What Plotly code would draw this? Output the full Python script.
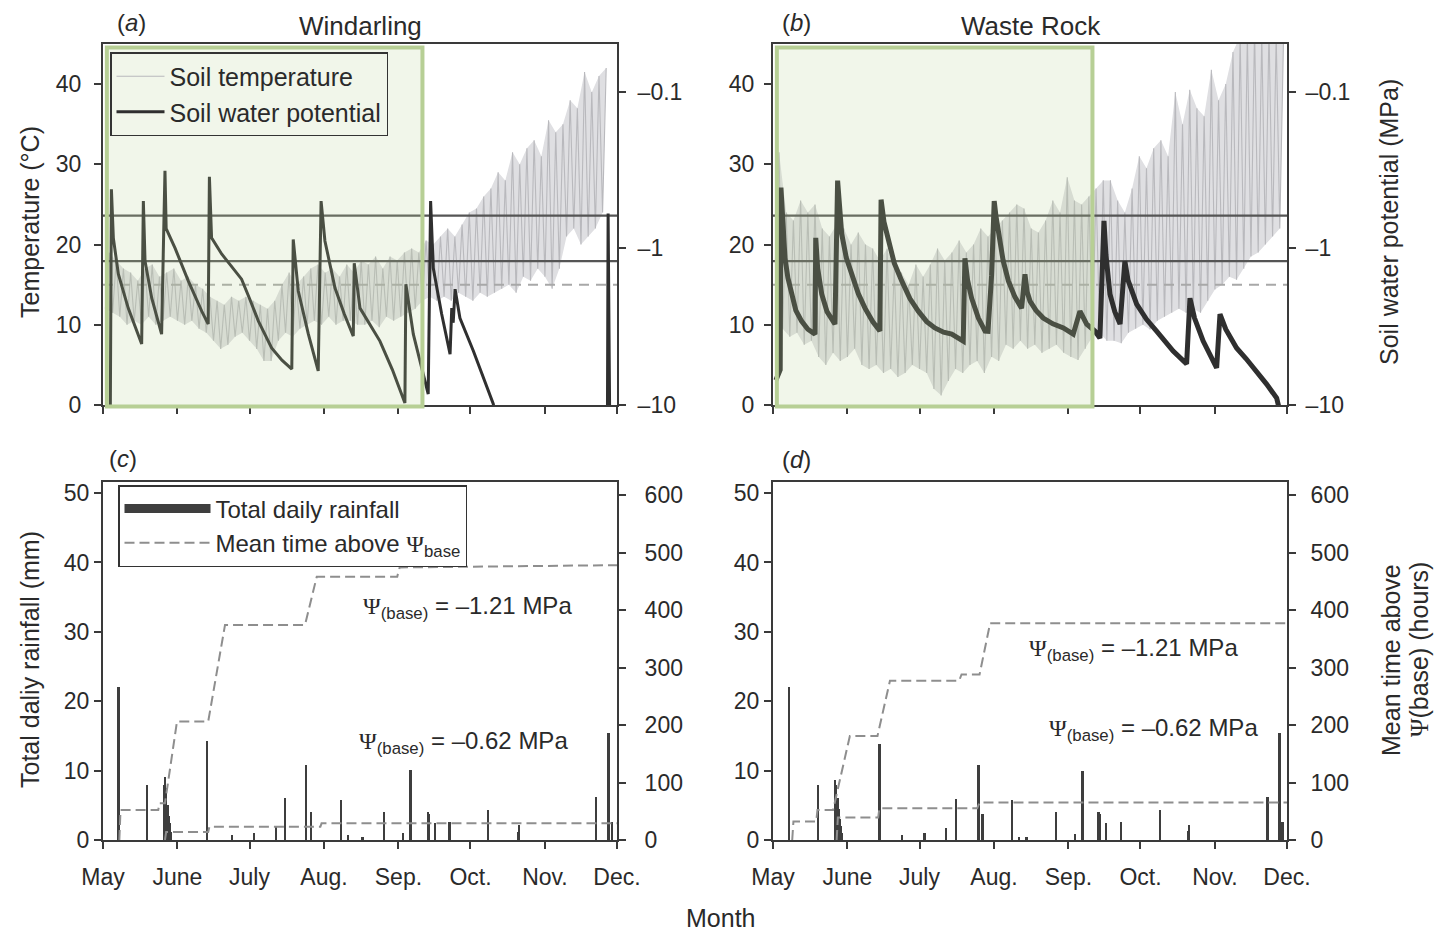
import pandas as pd
import plotly.graph_objects as go

W, H = 1445, 931
START = pd.Timestamp("2010-05-01")
END = pd.Timestamp("2010-12-01")

# ---------------- data ----------------
month_labels = ["May", "June", "July", "Aug.", "Sep.", "Oct.", "Nov.", "Dec."]
month_starts = ["2010-05-01", "2010-06-01", "2010-07-01", "2010-08-01",
                "2010-09-01", "2010-10-01", "2010-11-01", "2010-12-01"]

# days since 1 May; soil temperature daily envelope (deg C) - Windarling
temp_days_a = [1, 4, 7, 10, 13, 16, 19, 22, 25, 28, 31, 34, 37, 40, 43, 46, 49, 52, 55, 58,
               61, 64, 67, 70, 73, 76, 79, 82, 85, 88, 91, 94, 97, 100, 103, 106, 109, 112, 115, 118,
               121, 124, 127, 130, 133, 136, 139, 142, 145, 148, 151, 154, 157, 160, 163, 166, 169, 172, 175, 178,
               181, 184, 187, 190, 193, 196, 199, 202, 205, 208]
temp_hi_a = [19, 18, 17, 16.5, 15.5, 17, 17.5, 16, 16.5, 17, 15.5, 16, 15, 14.5, 13.5, 13, 12.5, 13.5, 13, 13.5,
             13, 12.5, 12, 13, 15, 16.5, 15, 16, 17, 17.5, 16.5, 17, 16, 17.5, 16.5, 18, 17.5, 18.5, 17, 18.5,
             18, 19, 19.5, 19, 20.5, 20, 21, 22, 21, 22.5, 24, 24.5, 26, 27, 29, 28, 31.5, 30, 32, 33,
             31, 35.5, 34, 35, 38, 37, 41.5, 39, 41, 42]
temp_lo_a = [12, 11.5, 11, 10, 10.5, 10, 11, 10, 10.5, 11, 10.5, 10, 10.5, 9.5, 9, 8, 7, 7.5, 8.5, 9,
             8, 7, 5.5, 5.5, 8, 9, 8.5, 9.5, 10, 10.5, 10, 11, 10, 10.5, 10.5, 10, 10, 10.5, 9.7, 11,
             10.5, 11, 11.5, 12, 13, 13.5, 13, 13.5, 13, 14, 13.5, 13, 14, 13.5, 14, 14.5, 15, 14, 16, 15.5,
             17, 16, 14.5, 17, 21, 22, 20, 21, 22, 24]

# Waste Rock
temp_days_b = [1, 4, 7, 10, 13, 16, 19, 22, 25, 28, 31, 34, 37, 40, 43, 46, 49, 52, 55, 58,
               61, 64, 67, 70, 73, 76, 79, 82, 85, 88, 91, 94, 97, 100, 103, 106, 109, 112, 115, 118,
               121, 124, 127, 130, 133, 136, 139, 142, 145, 148, 151, 154, 157, 160, 163, 166, 169, 172, 175, 178,
               181, 184, 187, 190, 193, 196, 199, 202, 205, 208, 211]
temp_hi_b = [31.5, 24, 23, 25.5, 24, 25, 22, 21, 22.5, 22, 20, 21.5, 20, 19.5, 18, 19.5, 17, 16.5, 15, 17.5,
             16, 17.5, 19.5, 18, 19, 20.5, 19, 20, 22, 21, 22, 23, 24, 25, 24.5, 22, 21.5, 23, 25.5, 24,
             28.4, 25.5, 25, 26, 27, 28, 28, 25.5, 24, 27, 31, 29.5, 32, 33, 31, 39, 35, 39.3, 37, 36,
             41.8, 38, 40, 44, 46, 46, 47, 46, 47, 46, 45]
temp_lo_b = [18, 9.5, 8.5, 9, 7.5, 8, 6, 5, 6.5, 5.5, 6, 7, 5, 4.5, 5, 4, 4.5, 3.5, 4, 5,
             4.5, 4, 2, 1.2, 3, 4.5, 4, 5, 5.5, 4, 6, 5.5, 7.5, 7, 8, 7, 7.5, 6.5, 7, 7.5,
             6.5, 6, 5.6, 7, 8.5, 9, 8, 8, 7.7, 9, 9.5, 10, 9.4, 10.5, 11, 11.5, 12, 11.5, 12, 11.5,
             13, 14.4, 15, 16, 15.6, 17, 18.5, 19, 20, 21, 22]

# soil water potential (MPa) - Windarling
psi_days_a = [3.0, 3.5, 4.3, 6.4, 10.5, 13.5, 16.1,
              16.8, 17.5, 20.3, 24.4,
              25.8, 26.0, 26.3, 30.0, 35.5, 41.1, 43.8,
              44.3, 45.2, 49.4, 55.0, 57.7, 61.0, 64.7, 70.2, 74.5, 78.6,
              79.2, 81.3, 85.5, 89.6,
              90.8, 92.4, 96.6, 100.5, 104.2,
              104.6, 107.0, 115.3, 120.5, 125.7,
              126.1, 129.2, 135.4,
              136.4, 137.5, 141.0, 144.5, 145.2, 145.8, 146.6, 148.6, 154.2, 162.5, 164.0,
              210.0, 210.3, 210.8, 211.0]
psi_a = [-15, -0.42, -0.86, -1.47, -2.42, -3.2, -4.10,
         -0.50, -1.21, -2.09, -3.55,
         -0.32, -0.61, -0.75, -1.00, -1.62, -2.53, -3.06,
         -0.35, -0.86, -1.09, -1.40, -1.58, -2.1, -2.93, -4.35, -5.2, -5.93,
         -0.88, -1.88, -3.55, -6.1,
         -0.50, -0.90, -1.80, -2.65, -3.65,
         -1.25, -2.42, -3.93, -6.0, -9.78,
         -1.70, -3.55, -8.57,
         -0.50, -1.34, -2.64, -4.76, -2.42, -3.0, -1.83, -2.8, -4.55, -9.9, -15,
         -15, -0.60, -15, -15]

# Waste Rock
psi_days_b = [1.2, 3.0, 3.3, 4.2, 5.0, 6.2, 7.8, 9.5, 11.9, 14.5, 17.5,
              17.8, 18.6, 20.3, 22.5, 25.8,
              26.9, 27.6, 28.6, 30.5, 32.8, 35.5, 38.3, 41.5, 44.5,
              45.0, 46.2, 48.0, 50.5, 53.6, 57.0, 60.5, 64.0, 67.4, 71.0, 74.4, 77.0, 79.2,
              79.9, 81.0, 82.7, 85.5, 88.3,
              89.5, 91.0, 92.1, 92.8, 93.8, 95.8, 98.0, 100.7, 103.5, 104.9, 105.8, 107.0, 109.5, 112.5,
              116.5, 120.9, 125.0, 127.8, 130.6, 134.0, 136.1,
              137.8, 138.6, 140.3, 142.3, 144.5,
              146.5, 147.8, 151.4, 155.5, 159.7, 166.6, 172.2,
              173.6, 175.5, 179.1, 184.7,
              186.1, 188.5, 193.0, 197.0, 201.4, 205.5, 209.7, 211.0]
psi_b = [-7.0, -6.0, -0.41, -0.80, -1.16, -1.55, -1.97, -2.50, -2.93, -3.30, -3.55,
         -0.86, -1.35, -1.97, -2.55, -3.06,
         -0.37, -0.58, -0.81, -1.15, -1.47, -1.95, -2.42, -2.95, -3.39,
         -0.49, -0.68, -0.90, -1.25, -1.62, -2.10, -2.53, -2.95, -3.24, -3.45, -3.55, -3.75, -3.93,
         -1.16, -1.60, -2.09, -2.80, -3.39,
         -3.4, -1.5, -0.50, -0.62, -0.78, -1.20, -1.62, -2.05, -2.42, -1.47, -1.90, -2.18, -2.50, -2.80,
         -3.05, -3.24, -3.55, -2.53, -3.06, -3.39, -3.76,
         -0.67, -1.10, -1.97, -2.55, -3.06,
         -1.21, -1.60, -2.28, -2.85, -3.39, -4.55, -5.5,
         -2.09, -2.80, -3.93, -5.83,
         -2.64, -3.30, -4.35, -5.10, -6.1, -7.4, -9.1, -11]

psi_base = [-0.62, -1.21]          # MPa
temp_threshold = 15                # deg C
period_days = [1.6, 133.0]         # shaded period

# total daily rainfall (mm)
rain_days_c = [6.4, 18.2, 25.3, 25.8, 26.3, 26.8, 27.3, 27.8, 28.3, 43.4, 53.6, 62.9, 72.0, 75.8, 84.5,
               86.6, 99.0, 102.0, 108.0, 117.0, 125.0, 128.1, 135.2, 135.7, 138.2, 144.2, 160.4, 172.7,
               173.2, 205.2, 210.4, 212.0]
rain_c = [22.1, 7.9, 8.0, 9.1, 7.5, 5.0, 3.5, 2.5, 1.2, 14.2, 0.7, 1.0, 1.9, 6.0, 10.8,
          4.1, 5.7, 0.7, 0.5, 4.1, 1.0, 10.1, 4.1, 3.8, 2.4, 2.6, 4.3, 1.2,
          2.2, 6.2, 15.4, 2.6]
rain_days_d = [6.7, 18.8, 25.8, 26.3, 26.8, 27.3, 27.8, 28.3, 28.8, 44.3, 53.8, 63.0, 72.0, 76.2, 85.5,
               87.3, 99.4, 102.5, 105.5, 117.8, 125.7, 128.8, 135.5, 136.0, 138.6, 144.8, 161.2, 172.8,
               173.3, 205.9, 210.8, 212.2]
rain_d = [22.1, 7.9, 8.6, 8.0, 6.0, 4.5, 3.0, 2.0, 1.0, 13.9, 0.7, 1.0, 1.7, 5.9, 10.8,
          3.8, 5.7, 0.5, 0.5, 4.1, 0.9, 10.0, 4.1, 3.8, 2.4, 2.6, 4.3, 1.3,
          2.2, 6.2, 15.4, 2.6]

# cumulative mean time above psi_base (hours)
hrs_days_c_121 = [6.8, 7.3, 23.0, 23.5, 25.8, 30.8, 43.8, 50.8, 84.1, 89.0, 122.5, 123.5, 214]
hrs_c_121 = [0, 52, 52, 64, 64, 206, 206, 374, 374, 458, 458, 474, 478]
hrs_days_c_062 = [25.8, 26.3, 43.8, 44.3, 90.5, 91.0, 214]
hrs_c_062 = [0, 14, 14, 23, 23, 29, 29]
hrs_days_d_121 = [8.0, 8.5, 18.0, 18.5, 25.0, 32.0, 43.5, 48.7, 77.5, 78.5, 86.0, 90.4, 214]
hrs_d_121 = [0, 32, 32, 52, 52, 181, 181, 277, 277, 288, 288, 377, 377]
hrs_days_d_062 = [26.5, 27.0, 43.8, 44.3, 85.0, 86.0, 214]
hrs_d_062 = [0, 39, 39, 55, 55, 65, 65]


# ---------------- helpers ----------------
def dates(days):
    return [START + pd.Timedelta(days=float(d)) for d in days]


def zigzag(days, lo, hi):
    xs, ys = [], []
    for d, l, h in zip(days, lo, hi):
        xs += [d, d + 1.5]
        ys += [l, h]
    return dates(xs), ys


def band(days, lo, hi):
    hx = [d + 1.5 for d in days]
    xs = hx + list(reversed(days))
    ys = list(hi) + list(reversed(lo))
    return dates(xs), ys


def px(x, y):
    return x / W, 1 - y / H


FONT = "Liberation Sans, Arial, sans-serif"
SERIF = "Liberation Serif, Times New Roman, serif"
PSI = f"<span style='font-family:{SERIF}'>Ψ</span>"
TXT = "#2a2a2a"
AX = "#3a3a3a"
TEMP_C = "#b9b9bd"
TEMP_FILL = "#dfdfe2"
PSI_C = "#2f2f2f"
BASE_C = "#555555"
DASH_C = "#8e8e8e"
BAR_C = "#3e3e3e"

fig = go.Figure()

panels_top = [("x", "y", "y2", temp_days_a, temp_lo_a, temp_hi_a, psi_days_a, psi_a, 3, True),
              ("x2", "y3", "y4", temp_days_b, temp_lo_b, temp_hi_b, psi_days_b, psi_b, 5, False)]
for xa, yt, yp, td, tlo, thi, pdays, pvals, pw, leg in panels_top:
    bx, by = band(td, tlo, thi)
    fig.add_trace(go.Scatter(x=bx, y=by, mode="lines", fill="toself", fillcolor=TEMP_FILL,
                             line=dict(width=0), hoverinfo="skip",
                             xaxis=xa, yaxis=yt, showlegend=False))
    zx, zy = zigzag(td, tlo, thi)
    fig.add_trace(go.Scatter(x=zx, y=zy, mode="lines", line=dict(color=TEMP_C, width=1.1),
                             name="Soil temperature", xaxis=xa, yaxis=yt, showlegend=leg,
                             legend="legend", legendgroup="t"))
    fig.add_trace(go.Scatter(x=[START, END], y=[temp_threshold, temp_threshold], mode="lines",
                             line=dict(color="#a8a8a8", width=2, dash="10px,7px"),
                             xaxis=xa, yaxis=yt, showlegend=False))
    for pb in psi_base:
        fig.add_trace(go.Scatter(x=[START, END], y=[-pb, -pb], mode="lines",
                                 line=dict(color=BASE_C, width=2.2),
                                 xaxis=xa, yaxis=yp, showlegend=False))
    fig.add_trace(go.Scatter(x=dates(pdays), y=[-v for v in pvals], mode="lines",
                             line=dict(color=PSI_C, width=pw),
                             name="Soil water potential", xaxis=xa, yaxis=yp, showlegend=leg,
                             legend="legend", legendgroup="p"))

panels_bot = [("x3", "y5", "y6", rain_days_c, rain_c, hrs_days_c_121, hrs_c_121, hrs_days_c_062, hrs_c_062, True),
              ("x4", "y7", "y8", rain_days_d, rain_d, hrs_days_d_121, hrs_d_121, hrs_days_d_062, hrs_d_062, False)]
for xa, yr, yh, rd, rv, hd1, hv1, hd2, hv2, leg in panels_bot:
    fig.add_trace(go.Bar(x=dates(rd), y=rv, width=1.0 * 86400000, marker=dict(color=BAR_C, line=dict(width=0)),
                         xaxis=xa, yaxis=yr, showlegend=False))
    if leg:
        fig.add_trace(go.Scatter(x=[None], y=[None], mode="lines", line=dict(color=BAR_C, width=9),
                                 name="Total daily rainfall", xaxis=xa, yaxis=yr,
                                 legend="legend2", legendgroup="r"))
    fig.add_trace(go.Scatter(x=dates(hd1), y=hv1, mode="lines",
                             line=dict(color=DASH_C, width=2, dash="10px,5px"),
                             name=f"Mean time above {PSI}<sub>base</sub>", xaxis=xa, yaxis=yh,
                             showlegend=leg, legend="legend2", legendgroup="h"))
    fig.add_trace(go.Scatter(x=dates(hd2), y=hv2, mode="lines",
                             line=dict(color=DASH_C, width=2, dash="10px,5px"),
                             xaxis=xa, yaxis=yh, showlegend=False))

# ---------------- axes ----------------
XA = [103 / W, 617 / W]
XB = [773 / W, 1287 / W]
YT = [1 - 405 / H, 1 - 44 / H]
YB = [1 - 840 / H, 1 - 482 / H]

base_ax = dict(showgrid=False, zeroline=False, showline=True, linecolor=AX, linewidth=2,
               ticks="outside", ticklen=7, tickwidth=1.5, tickcolor=AX, automargin=False,
               tickfont=dict(family=FONT, size=23, color=TXT))


def xax(domain, anchor, labels):
    d = dict(base_ax, domain=domain, anchor=anchor, type="date",
             range=[START, END], tickvals=month_starts, mirror=True,
             showticklabels=labels)
    if labels:
        d["ticktext"] = month_labels
        d["ticklabelstandoff"] = 8
    return d


def ylin(domain, anchor, rng, vals, standoff):
    return dict(base_ax, domain=domain, anchor=anchor, range=rng, tickvals=vals,
                ticktext=[str(v) for v in vals], ticklabelstandoff=standoff)


def ylog(anchor, over, standoff):
    return dict(base_ax, anchor=anchor, overlaying=over, side="right", type="log",
                range=[1.003, -1.305], tickvals=[0.1, 1, 10], ticktext=["–0.1", "–1", "–10"],
                ticklabelstandoff=standoff)


def yhrs(anchor, over, standoff):
    return dict(base_ax, anchor=anchor, overlaying=over, side="right", range=[0, 622.6],
                tickvals=[0, 100, 200, 300, 400, 500, 600],
                ticktext=["0", "100", "200", "300", "400", "500", "600"],
                ticklabelstandoff=standoff)


layout = dict(
    width=W, height=H, margin=dict(l=0, r=0, t=0, b=0, autoexpand=False),
    paper_bgcolor="white", plot_bgcolor="white",
    font=dict(family=FONT, size=23, color=TXT),
    bargap=0,
    xaxis=xax(XA, "y", False), xaxis2=xax(XB, "y3", False),
    xaxis3=xax(XA, "y5", True), xaxis4=xax(XB, "y7", True),
    yaxis=ylin(YT, "x", [0, 45], [0, 10, 20, 30, 40], 8), yaxis2=ylog("x", "y", 7),
    yaxis3=ylin(YT, "x2", [0, 45], [0, 10, 20, 30, 40], 5), yaxis4=ylog("x2", "y3", 5),
    yaxis5=ylin(YB, "x3", [0, 51.6], [0, 10, 20, 30, 40, 50], 0), yaxis6=yhrs("x3", "y5", 14),
    yaxis7=ylin(YB, "x4", [0, 51.6], [0, 10, 20, 30, 40, 50], 0), yaxis8=yhrs("x4", "y7", 10),
    legend=dict(x=110 / W, y=1 - 52 / H, xanchor="left", yanchor="top",
                bgcolor="rgba(0,0,0,0)", bordercolor="#333", borderwidth=1.5,
                font=dict(family=FONT, size=25, color=TXT), itemwidth=48, tracegroupgap=2,
                traceorder="normal"),
    legend2=dict(x=118 / W, y=1 - 485 / H, xanchor="left", yanchor="top",
                 bgcolor="white", bordercolor="#333", borderwidth=1.5,
                 font=dict(family=FONT, size=24, color=TXT), itemwidth=86, tracegroupgap=0,
                 traceorder="normal"),
)
fig.update_layout(**layout)

# shaded period (overlay)
for xref, yref in [("x", "y domain"), ("x2", "y3 domain")]:
    fig.add_shape(type="rect", xref=xref, yref=yref,
                  x0=dates([period_days[0]])[0], x1=dates([period_days[1]])[0], y0=-0.004, y1=0.99,
                  fillcolor="rgba(185,212,150,0.2)", line=dict(color="#b7cf95", width=4), layer="above")


# ---------------- annotations ----------------
def ann(text, x, y, size=24, angle=0):
    ax_, ay_ = px(x, y)
    fig.add_annotation(text=text, x=ax_, y=ay_, xref="paper", yref="paper", showarrow=False,
                       textangle=angle, font=dict(family=FONT, size=size, color=TXT),
                       xanchor="center", yanchor="middle")


ann("(<i>a</i>)", 131, 22)
ann("Windarling", 360, 26, size=26)
ann("(<i>b</i>)", 796, 22)
ann("Waste Rock", 1031, 26, size=26)
ann("(<i>c</i>)", 123, 458)
ann("(<i>d</i>)", 796, 460)
ann("Temperature (°C)", 30, 222, size=25, angle=-90)
ann("Soil water potential (MPa)", 1389, 222, size=25, angle=-90)
ann("Total daliy rainfall (mm)", 30, 660, size=25, angle=-90)
ann("Mean time above", 1391, 660, size=25, angle=-90)
ann(f"{PSI}(base) (hours)", 1419, 650, size=25, angle=-90)
ann("Month", 720, 918, size=25)
ann(f"{PSI}<sub>(base)</sub> = –1.21 MPa", 467, 607, size=24)
ann(f"{PSI}<sub>(base)</sub> = –0.62 MPa", 464, 742, size=24)
ann(f"{PSI}<sub>(base)</sub> = –1.21 MPa", 1133, 649, size=24)
ann(f"{PSI}<sub>(base)</sub> = –0.62 MPa", 1153, 729, size=24)

fig.write_html("out.html")
